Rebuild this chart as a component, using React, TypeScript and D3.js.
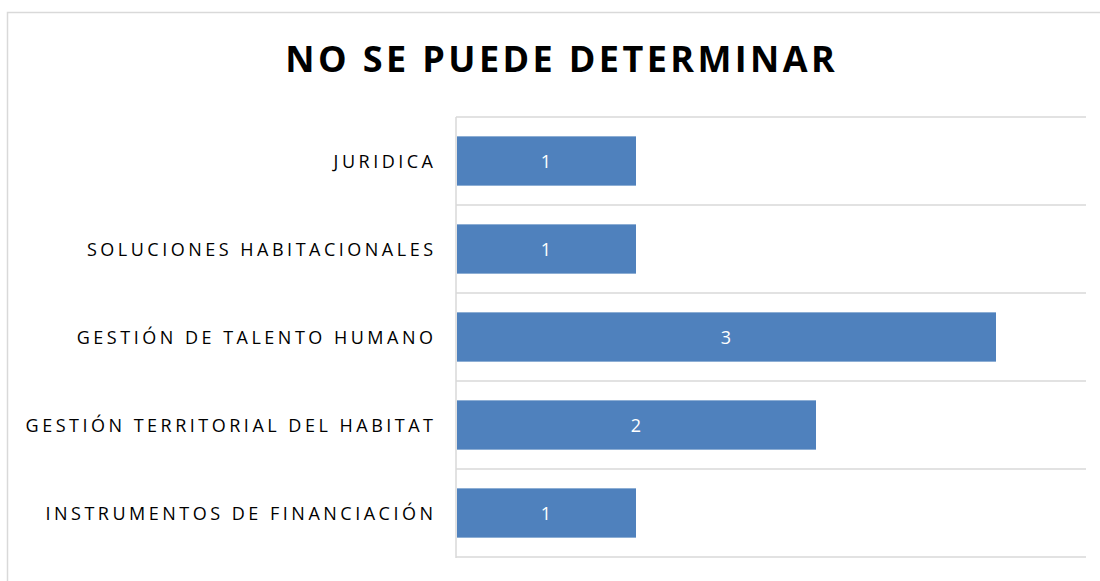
import React, { useEffect, useRef } from "react";
import * as d3 from "d3";

const title = "NO SE PUEDE DETERMINAR";
const categories = [
  "JURIDICA",
  "SOLUCIONES HABITACIONALES",
  "GESTIÓN DE TALENTO HUMANO",
  "GESTIÓN TERRITORIAL DEL HABITAT",
  "INSTRUMENTOS DE FINANCIACIÓN",
];
const values = [1, 1, 3, 2, 1];
const xMax = 3.5;

const App = () => {
  const ref = useRef<SVGSVGElement>(null);

  useEffect(() => {
    const width = 1100;
    const height = 581;
    const svg = d3.select(ref.current);
    svg.selectAll("*").remove();
    svg.attr("width", width).attr("height", height);

    const grid = "#d9d9d9";

    // outer frame
    svg
      .append("rect")
      .attr("x", 7.5)
      .attr("y", 12.5)
      .attr("width", 1200)
      .attr("height", 700)
      .attr("fill", "#fff")
      .attr("stroke", grid)
      .attr("stroke-width", 1.5);

    // title
    svg
      .append("text")
      .attr("x", 561.7)
      .attr("y", 72)
      .attr("text-anchor", "middle")
      .attr("font-family", "'Open Sans', sans-serif")
      .attr("font-weight", 700)
      .attr("font-size", 36)
      .attr("letter-spacing", 3.4)
      .attr("fill", "#000")
      .text(title);

    const x = d3.scaleLinear().domain([0, xMax]).range([456, 1086]);
    const y = d3
      .scaleBand<string>()
      .domain(categories)
      .range([117, 557])
      .paddingInner(0.44)
      .paddingOuter(0.22);

    const step = y.step();
    const gap = (step - y.bandwidth()) / 2;
    const lines = categories.map((c) => (y(c) as number) - gap);
    lines.push(y.range()[1]);

    svg
      .append("g")
      .selectAll("line")
      .data(lines)
      .join("line")
      .attr("x1", x(0))
      .attr("x2", x(xMax))
      .attr("y1", (d) => d)
      .attr("y2", (d) => d)
      .attr("stroke", grid)
      .attr("stroke-width", 1.5);

    // category axis line
    svg
      .append("line")
      .attr("x1", x(0))
      .attr("x2", x(0))
      .attr("y1", 117)
      .attr("y2", 558)
      .attr("stroke", grid)
      .attr("stroke-width", 1.5);

    const data = categories.map((c, i) => ({ c, v: values[i] }));

    svg
      .append("g")
      .selectAll("rect")
      .data(data)
      .join("rect")
      .attr("x", x(0) + 1)
      .attr("y", (d) => y(d.c) as number)
      .attr("width", (d) => x(d.v) - x(0) - 1)
      .attr("height", y.bandwidth())
      .attr("fill", "#4f81bd");

    // value labels
    svg
      .append("g")
      .selectAll("text")
      .data(data)
      .join("text")
      .attr("x", (d) => (x(0) + x(d.v)) / 2)
      .attr("y", (d) => (y(d.c) as number) + y.bandwidth() / 2 + 7)
      .attr("text-anchor", "middle")
      .attr("font-family", "'Open Sans', sans-serif")
      .attr("font-size", 18)
      .attr("fill", "#fff")
      .text((d) => d.v);

    // category labels
    svg
      .append("g")
      .selectAll("text")
      .data(categories)
      .join("text")
      .attr("x", 433 + 3.5)
      .attr("y", (d) => (y(d) as number) + y.bandwidth() / 2 + 7)
      .attr("text-anchor", "end")
      .attr("font-family", "'Open Sans', sans-serif")
      .attr("font-size", 18)
      .attr("letter-spacing", 3.5)
      .attr("fill", "#000")
      .text((d) => d);
  }, []);

  return (
    <div style={{ position: "fixed", left: 0, top: 0 }}>
      <svg ref={ref}></svg>
    </div>
  );
};

export default App;
